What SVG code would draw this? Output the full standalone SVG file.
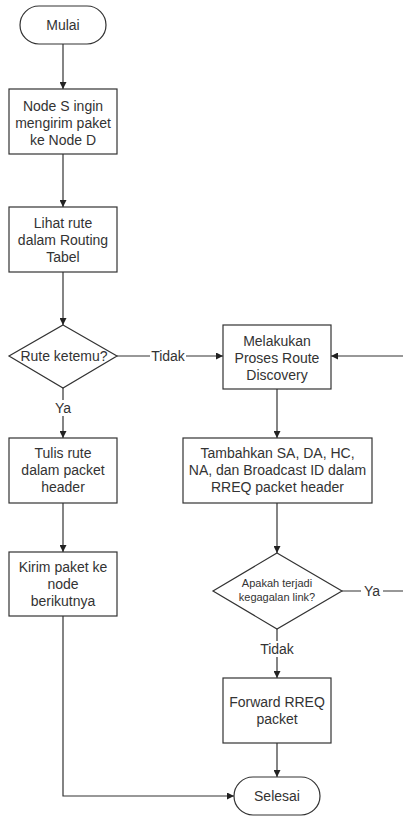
<svg xmlns="http://www.w3.org/2000/svg" width="403" height="816" viewBox="0 0 403 816">
<defs>
<marker id="arr" viewBox="0 0 8 8" refX="8" refY="4" markerWidth="7" markerHeight="7" markerUnits="userSpaceOnUse" orient="auto">
<path d="M0,0 L8,4 L0,8 z" fill="#222"/>
</marker>
<style>
.shape{fill:#fff;stroke:#333;stroke-width:1.2}
.t{font-family:"Liberation Sans",Arial,sans-serif;font-size:14px;fill:#333;text-anchor:middle}
.s{font-size:11px}
.c{fill:none;stroke:#333;stroke-width:1.2}
.a{marker-end:url(#arr)}
.lbl{fill:#fff;stroke:none}
</style>
</defs>
<rect width="403" height="816" fill="#fff"/>
<g id="connectors">
<line class="c a" x1="63" y1="44" x2="63" y2="89"/>
<line class="c a" x1="63" y1="154" x2="63" y2="207"/>
<line class="c a" x1="63" y1="272" x2="63" y2="325"/>
<line class="c a" x1="117" y1="356" x2="223" y2="356"/>
<line class="c a" x1="403" y1="356" x2="331" y2="356"/>
<line class="c a" x1="63" y1="388" x2="63" y2="438"/>
<line class="c a" x1="63" y1="503" x2="63" y2="552"/>
<line class="c a" x1="277" y1="389" x2="277" y2="438"/>
<line class="c a" x1="277" y1="503" x2="277" y2="553"/>
<line class="c" x1="342" y1="591" x2="403" y2="591"/>
<line class="c a" x1="277" y1="629" x2="277" y2="678"/>
<line class="c a" x1="277" y1="743" x2="277" y2="777"/>
<polyline class="c a" points="63,616 63,796 234,796"/>
<rect class="lbl" x="150" y="348" width="36" height="16"/>
<text class="t" x="168" y="361">Tidak</text>
<rect class="lbl" x="53" y="400" width="20" height="16"/>
<text class="t" x="63" y="413">Ya</text>
<rect class="lbl" x="361" y="583" width="22" height="16"/>
<text class="t" x="372" y="596">Ya</text>
<rect class="lbl" x="259" y="641" width="36" height="16"/>
<text class="t" x="277" y="654">Tidak</text>
</g>
<g id="mulai">
<rect class="shape" x="20" y="6" width="86" height="38" rx="19"/>
<text class="t" x="63" y="30">Mulai</text>
</g>
<g id="node-s">
<rect class="shape" x="9" y="89" width="108" height="65"/>
<text class="t" x="63" y="111">Node S ingin</text>
<text class="t" x="63" y="128">mengirim paket</text>
<text class="t" x="63" y="145">ke Node D</text>
</g>
<g id="lihat-rute">
<rect class="shape" x="9" y="207" width="108" height="65"/>
<text class="t" x="63" y="228">Lihat rute</text>
<text class="t" x="63" y="245">dalam Routing</text>
<text class="t" x="63" y="262">Tabel</text>
</g>
<g id="rute-ketemu">
<polygon class="shape" points="63,325 117,356 63,388 9,356"/>
<text class="t" x="64" y="361">Rute ketemu?</text>
</g>
<g id="tulis-rute">
<rect class="shape" x="9" y="438" width="108" height="65"/>
<text class="t" x="63" y="458">Tulis rute</text>
<text class="t" x="63" y="475">dalam packet</text>
<text class="t" x="63" y="492">header</text>
</g>
<g id="kirim-paket">
<rect class="shape" x="9" y="552" width="108" height="64"/>
<text class="t" x="63" y="572">Kirim paket ke</text>
<text class="t" x="63" y="589">node</text>
<text class="t" x="63" y="606">berikutnya</text>
</g>
<g id="route-discovery">
<rect class="shape" x="223" y="325" width="108" height="64"/>
<text class="t" x="277" y="346">Melakukan</text>
<text class="t" x="277" y="363">Proses Route</text>
<text class="t" x="277" y="380">Discovery</text>
</g>
<g id="tambahkan">
<rect class="shape" x="183" y="438" width="189" height="65"/>
<text class="t" x="277.5" y="458">Tambahkan SA, DA, HC,</text>
<text class="t" x="277.5" y="475">NA, dan Broadcast ID dalam</text>
<text class="t" x="277.5" y="492">RREQ packet header</text>
</g>
<g id="kegagalan">
<polygon class="shape" points="277,553 342,591 277,629 213,591"/>
<text class="t s" x="277" y="587">Apakah terjadi</text>
<text class="t s" x="277" y="601">kegagalan link?</text>
</g>
<g id="forward">
<rect class="shape" x="223" y="678" width="108" height="65"/>
<text class="t" x="277" y="707">Forward RREQ</text>
<text class="t" x="277" y="724">packet</text>
</g>
<g id="selesai">
<rect class="shape" x="234" y="777" width="86" height="38" rx="19"/>
<text class="t" x="277" y="801">Selesai</text>
</g>
</svg>
